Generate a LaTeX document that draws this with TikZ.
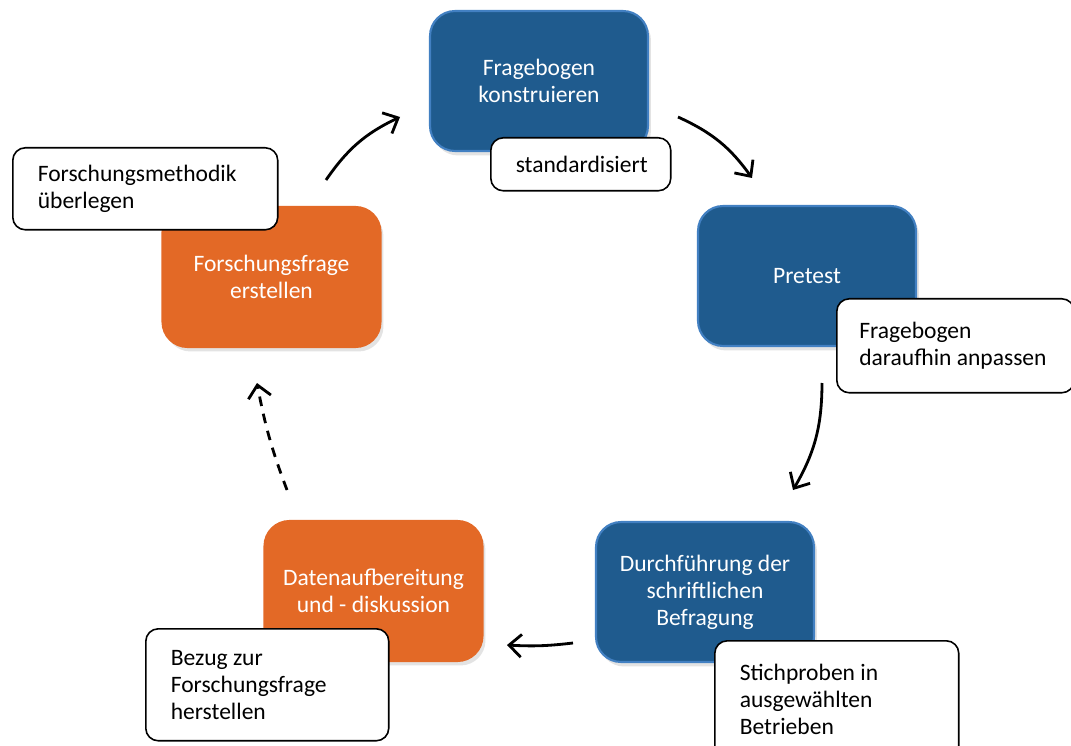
\documentclass[tikz,border=0pt]{standalone}
\usepackage{fontspec}
\setmainfont{Carlito}
\usetikzlibrary{arrows.meta,shadows}
\definecolor{stepblue}{RGB}{31,91,142}
\definecolor{stepline}{RGB}{66,128,194}
\definecolor{steporange}{RGB}{227,105,38}
\tikzset{
	mainbox/.style={line width=1.2pt, rounded corners=0.5cm, minimum width=4.36cm, minimum height=2.8cm, text=white, align=center, font=\fontsize{13.4}{15.3}\selectfont, drop shadow={shadow xshift=0.6mm, shadow yshift=-0.9mm, opacity=0.22}},
	bluebox/.style={mainbox, fill=stepblue, draw=stepline},
	orangebox/.style={mainbox, fill=steporange, draw=steporange},
	notebox/.style={draw=black, fill=white, line width=0.9pt, rounded corners=0.25cm, anchor=north west, align=flush left, inner xsep=0.5cm, inner ysep=0pt, font=\fontsize{13.4}{15.3}\selectfont},
	flow/.style={line width=1.6pt, -{Straight Barb[length=7pt,width=13pt]}}
}
\begin{document}
\begin{tikzpicture}[x=0.02cm,y=-0.02cm]
					\useasboundingbox (0,0) rectangle (1071,746);
					\coordinate (c1) at (539,81);
					\coordinate (c2) at (807,276);
					\coordinate (c3) at (705,592);
					\coordinate (c4) at (373.5,591);
					\coordinate (c5) at (271.5,277);
					\coordinate (a1) at (326,180);
					\coordinate (a2) at (400,117);
					\coordinate (b1) at (678,117);
					\coordinate (b2) at (752,178);
					\coordinate (d1) at (822,383);
					\coordinate (d2) at (793,490);
					\coordinate (e1) at (573,643);
					\coordinate (e2) at (507,645);
					\coordinate (f1) at (287,490);
					\coordinate (f2) at (257,383);
					
					\draw[flow] (a1) to[bend left=15] (a2);
					\draw[flow] (b1) to[bend left=15] (b2);
					\draw[flow] (d1) to[bend left=15] (d2);
					\draw[flow] (e1) to[bend left=5] (e2);
					\draw[flow, dash pattern=on 5.5pt off 4.5pt] (f1) to[bend left=5] (f2);
					
					\node (q1) at (c1) [bluebox] {Fragebogen\\konstruieren};
					\node (q2) at (c2) [bluebox] {Pretest};
					\node (q3) at (c3) [bluebox] {Durchführung der\\schriftlichen\\Befragung};
					\node (q4) at (c4) [orangebox] {Datenaufbereitung\\und - diskussion};
					\node (q5) at (c5) [orangebox] {Forschungsfrage\\erstellen};
					
					\node (m1) at (490,137) [notebox, align=center, text width=2.6cm, minimum height=1.06cm] {standardisiert};
					\node (m2) at (836,298) [notebox, inner xsep=0.45cm, text width=3.85cm, minimum height=1.88cm] {Fragebogen\\daraufhin anpassen};
					\node (m3) at (714,640) [notebox, text width=3.88cm, minimum height=2.36cm] {Stichproben in\\ausgewählten\\Betrieben};
					\node (m4) at (145,628) [notebox, text width=3.86cm, minimum height=2.24cm] {Bezug zur\\Forschungsfrage\\herstellen};
					\node (m5) at (12,147) [notebox, text width=4.3cm, minimum height=1.64cm] {Forschungsmethodik\\überlegen};
				\end{tikzpicture}
\end{document}
